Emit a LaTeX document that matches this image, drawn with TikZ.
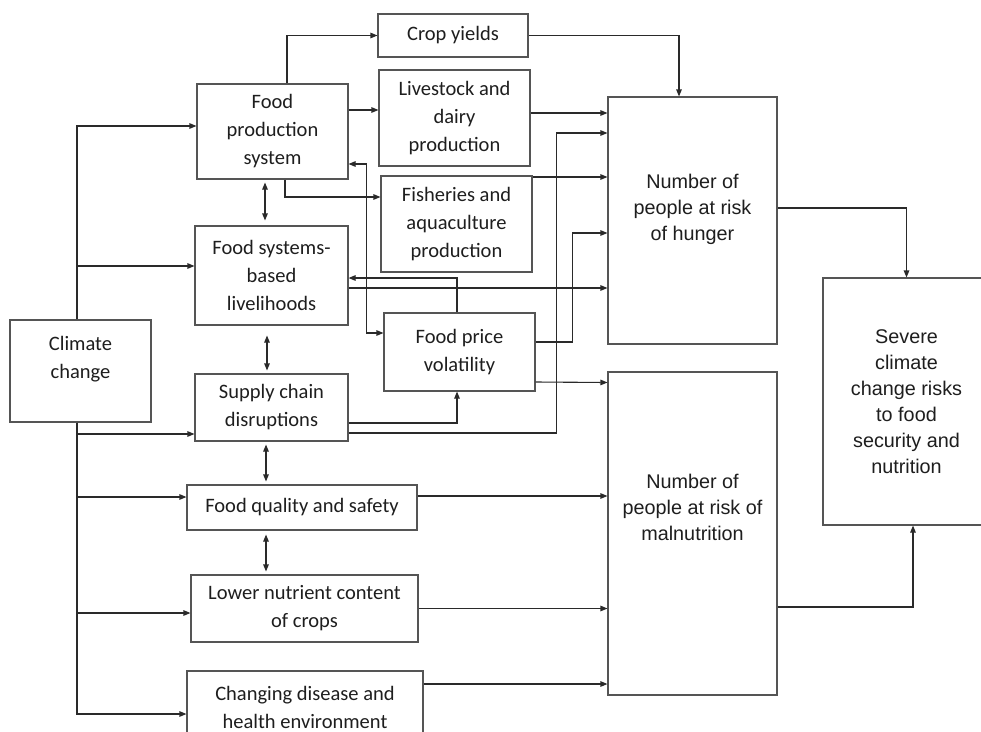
\documentclass[tikz,border=0pt]{standalone}
\usepackage{fontspec}
\setmainfont{Carlito}
\newfontfamily\arialf{Liberation Sans}
\usetikzlibrary{arrows.meta}
\definecolor{boxc}{HTML}{555555}
\definecolor{linec}{HTML}{2A2A2A}
\definecolor{txtc}{HTML}{1E1E1E}
\tikzset{
  lbox/.style={draw=boxc, line width=1.1pt, align=center, text=txtc, inner sep=0pt,
    font=\fontsize{20.5}{28}\selectfont},
  rbox/.style={draw=boxc, line width=1.1pt, align=center, text=txtc, inner sep=0pt,
    font=\arialf\fontsize{19.8}{26}\selectfont},
  arr/.style={draw=linec, line width=1.1pt, -{Triangle[length=7pt,width=5.5pt]}},
  dbl/.style={draw=linec, line width=1.1pt, {Triangle[length=7pt,width=5.5pt]}-{Triangle[length=7pt,width=5.5pt]}}
}
\begin{document}
\begin{tikzpicture}[x=1pt,y=-1pt]
\useasboundingbox (0,0) rectangle (981,731);
\fill[white] (0,0) rectangle (981,731);
\clip (0,0) rectangle (981,731);

% boxes
\node[lbox, minimum width=150pt, minimum height=43pt] (crop) at (453,35.5) {Crop yields};
\node[lbox, minimum width=151pt, minimum height=95pt] (fps) at (272.5,131.5) {Food\\production\\system};
\node[lbox, minimum width=151pt, minimum height=96pt] (live) at (454.5,118) {Livestock and\\dairy\\production};
\node[lbox, minimum width=151pt, minimum height=96pt] (fish) at (456.5,224) {Fisheries and\\aquaculture\\production};
\node[lbox, minimum width=153pt, minimum height=99pt] (liv) at (271.5,275.5) {Food systems-\\based\\livelihoods};
\node[lbox, minimum width=151pt, minimum height=78pt] (fpv) at (459.5,352) {Food price\\volatility};
\node[lbox, minimum width=153pt, minimum height=67pt] (sc) at (271.5,407.5) {Supply chain\\disruptions};
\node[lbox, minimum width=230pt, minimum height=45pt] (fq) at (302,507.5) {Food quality and safety};
\node[lbox, minimum width=227pt, minimum height=67pt] (ln) at (304.5,608.5) {Lower nutrient content\\of crops};
\node[lbox, minimum width=236pt, minimum height=73pt] (cd) at (305,707.5) {Changing disease and\\health environment};
\node[lbox, minimum width=141pt, minimum height=102pt] (cc) at (80.5,371) {Climate\\change\\\mbox{}};
\node[rbox, minimum width=169pt, minimum height=247pt] (hun) at (692.5,220.5) {Number of\\people at risk\\of hunger\\\mbox{}};
\node[rbox, minimum width=169pt, minimum height=323pt] (mal) at (692.5,533.5) {Number of\\people at risk of\\malnutrition\\\mbox{}\\\mbox{}};
\node[rbox, minimum width=167pt, minimum height=247pt] (sev) at (906.5,401.5) {Severe\\climate\\change risks\\to food\\security and\\nutrition};

% climate change branches
\draw[arr] ([xshift=-3.5pt]cc.north) |- ([yshift=5.5pt]fps.west);
\draw[arr] ([xshift=-3.5pt]cc.north) |- ([yshift=9.5pt]liv.west);
\draw[arr] ([xshift=-3.5pt]cc.south) |- ([yshift=-26.5pt]sc.west);
\draw[arr] ([xshift=-3.5pt]cc.south) |- ([yshift=10.5pt]fq.west);
\draw[arr] ([xshift=-3.5pt]cc.south) |- ([yshift=-4.5pt]ln.west);
\draw[arr] ([xshift=-3.5pt]cc.south) |- ([yshift=-6.5pt]cd.west);

% food production system outputs
\draw[arr] ([xshift=14.5pt]fps.north) |- (crop.west);
\draw[arr] ([yshift=21.5pt]fps.east) -- ([yshift=8pt]live.west);
\draw[arr] ([xshift=12.5pt]fps.south) |- ([yshift=27pt]fish.west);

% vertical double arrows
\draw[dbl] ([xshift=-7.5pt,yshift=-3pt]fps.south) -- ([xshift=-6.5pt,yshift=5pt]liv.north);
\draw[dbl] ([xshift=-4.5pt,yshift=-10pt]liv.south) -- ([xshift=-4.5pt,yshift=3pt]sc.north);
\draw[dbl] ([xshift=-5.5pt,yshift=-3pt]sc.south) -- ([xshift=-36pt,yshift=3pt]fq.north);
\draw[dbl] ([xshift=-36pt,yshift=-4pt]fq.south) -- ([xshift=-38.5pt,yshift=3pt]ln.north);

% food price volatility links
\draw[dbl] ([yshift=-32.5pt]fps.east) -- ++(18,0) |- ([yshift=19pt]fpv.west);
\draw[arr] ([xshift=-2.5pt]fpv.north) |- ([yshift=-2.5pt]liv.east);
\draw[arr] ([yshift=-12.5pt]liv.east) -- ([yshift=-67.5pt]hun.west);
\draw[arr] ([yshift=10pt]fpv.east) -- ++(37,0) |- ([yshift=-12.5pt]hun.west);
\draw[arr] ([yshift=-30pt]fpv.east) -- ([yshift=151pt]mal.west);
\draw[arr] ([yshift=-15.5pt]sc.east) -| ([xshift=-2.5pt]fpv.south);
\draw[arr] ([yshift=-25.5pt]sc.east) -- ++(208,0) |- ([yshift=87.5pt]hun.west);

% into hunger
\draw[arr] (crop.east) -| ([xshift=-13.5pt]hun.north);
\draw[arr] ([yshift=5pt]live.east) -- ([yshift=107.5pt]hun.west);
\draw[arr] ([yshift=47pt]fish.east) -- ([yshift=43.5pt]hun.west);

% into malnutrition
\draw[arr] ([yshift=11.5pt]fq.east) -- ([yshift=37.5pt]mal.west);
\draw[arr] (ln.east) -- ([yshift=-75pt]mal.west);
\draw[arr] ([yshift=23.5pt]cd.east) -- ([yshift=-150.5pt]mal.west);

% into severe risks
\draw[arr] ([yshift=12.5pt]hun.east) -| (sev.north);
\draw[arr] ([yshift=-73.5pt]mal.east) -| ([xshift=6.5pt]sev.south);
\end{tikzpicture}
\end{document}
